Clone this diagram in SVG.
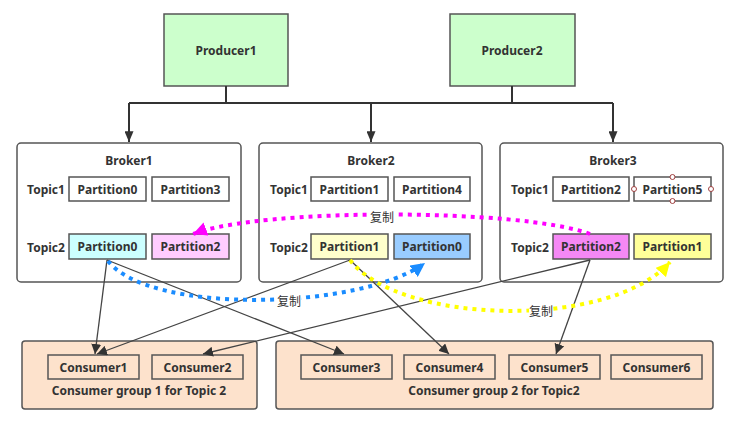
<svg xmlns="http://www.w3.org/2000/svg" width="748" height="428" viewBox="0 0 748 428">
<style>
text{font-family:"Noto Sans","Liberation Sans","Noto Sans CJK SC",sans-serif;font-size:12px;font-weight:bold;fill:#333;text-anchor:middle;dominant-baseline:central}
.lbl{font-family:"Noto Sans CJK SC","Noto Sans",sans-serif;font-weight:normal;font-size:12px}
.prod{fill:#ccffcc;stroke:#555;stroke-width:1.5}
.broker{fill:#fff;stroke:#555;stroke-width:1.5}
.part{stroke:#555;stroke-width:1.5;fill:#fff}
.grp{fill:#fde2cc;stroke:#555;stroke-width:1.5}
.cons{fill:#fde2cc;stroke:#555;stroke-width:1.5}
.tree{fill:none;stroke:#333;stroke-width:2}
.cl{fill:none;stroke:#444;stroke-width:1.3}
.dot{fill:none;stroke-width:4;stroke-dasharray:4 5}
.bg{fill:#fff}
.h{fill:#fff;stroke:#a04040;stroke-width:1}
</style>
<defs>
<marker id="ah" viewBox="0 0 10 10" refX="10" refY="5" markerWidth="10" markerHeight="10" markerUnits="userSpaceOnUse" orient="auto"><path d="M0,0 L10,5 L0,10 z" fill="#333"/></marker>
<marker id="ac" viewBox="0 0 12 10" refX="12" refY="5" markerWidth="12" markerHeight="9" markerUnits="userSpaceOnUse" orient="auto"><path d="M0,0 L12,5 L0,10 z" fill="#333"/></marker>
<marker id="am" viewBox="0 0 12 12" refX="12" refY="6" markerWidth="14" markerHeight="14" markerUnits="userSpaceOnUse" orient="auto"><path d="M0,0 L12,6 L0,12 z" fill="#ff00ff"/></marker>
<marker id="ab" viewBox="0 0 12 12" refX="12" refY="6" markerWidth="14" markerHeight="14" markerUnits="userSpaceOnUse" orient="auto"><path d="M0,0 L12,6 L0,12 z" fill="#1a8cff"/></marker>
<marker id="ay" viewBox="0 0 12 12" refX="12" refY="6" markerWidth="14" markerHeight="14" markerUnits="userSpaceOnUse" orient="auto"><path d="M0,0 L12,6 L0,12 z" fill="#ffff00"/></marker>
</defs>

<g id="producer1"><rect class="prod" x="164" y="14" width="124" height="72"/><text x="226" y="50">Producer1</text></g>
<g id="producer2"><rect class="prod" x="450" y="14" width="125" height="72"/><text x="512" y="50">Producer2</text></g>

<g id="broker1">
<rect class="broker" x="17" y="143" width="224" height="139" rx="4"/>
<text x="129" y="160">Broker1</text>
<text x="46" y="189">Topic1</text>
<rect class="part" x="69" y="177" width="77" height="24"/><text x="107.500" y="189">Partition0</text>
<rect class="part" x="152" y="177" width="77" height="24"/><text x="190.500" y="189">Partition3</text>
<text x="46" y="247">Topic2</text>
<rect class="part" x="69" y="234" width="77" height="25" style="fill:#ccffff"/><text x="107.500" y="246.500">Partition0</text>
<rect class="part" x="152" y="234" width="77" height="25" style="fill:#ffccff"/><text x="190.500" y="246.500">Partition2</text>
</g>

<g id="broker2">
<rect class="broker" x="259" y="143" width="223" height="139" rx="4"/>
<text x="371" y="160">Broker2</text>
<text x="289" y="189">Topic1</text>
<rect class="part" x="311" y="177" width="77" height="24"/><text x="349.500" y="189">Partition1</text>
<rect class="part" x="394" y="177" width="76" height="24"/><text x="432" y="189">Partition4</text>
<text x="289" y="247">Topic2</text>
<rect class="part" x="311" y="234" width="77" height="25" style="fill:#ffffcc"/><text x="349.500" y="246.500">Partition1</text>
<rect class="part" x="394" y="234" width="76" height="25" style="fill:#99ccff"/><text x="432" y="246.500">Partition0</text>
</g>

<g id="broker3">
<rect class="broker" x="500" y="143" width="223" height="139" rx="4"/>
<text x="613" y="160">Broker3</text>
<text x="530" y="189">Topic1</text>
<rect class="part" x="553" y="177" width="76" height="24"/><text x="591" y="189">Partition2</text>
<rect class="part" x="634" y="177" width="77" height="24"/><text x="672.500" y="189">Partition5</text>
<circle class="h" cx="634" cy="189" r="2.500"/><circle class="h" cx="711" cy="189" r="2.500"/>
<circle class="h" cx="672.500" cy="177" r="2.500"/><circle class="h" cx="672.500" cy="201" r="2.500"/>
<text x="530" y="247">Topic2</text>
<rect class="part" x="553" y="234" width="76" height="25" style="fill:#f588f5"/><text x="591" y="246.500">Partition2</text>
<rect class="part" x="634" y="234" width="77" height="25" style="fill:#ffff99"/><text x="672.500" y="246.500">Partition1</text>
</g>

<g id="group1">
<rect class="grp" x="22" y="341" width="235" height="68" rx="3"/>
<rect class="cons" x="48" y="355" width="91" height="24"/><text x="93.500" y="367">Consumer1</text>
<rect class="cons" x="152" y="355" width="91" height="24"/><text x="197.500" y="367">Consumer2</text>
<text x="139" y="390">Consumer group 1 for Topic 2</text>
</g>

<g id="group2">
<rect class="grp" x="276" y="341" width="437" height="68" rx="3"/>
<rect class="cons" x="301" y="355" width="91" height="24"/><text x="346.500" y="367">Consumer3</text>
<rect class="cons" x="404" y="355" width="91" height="24"/><text x="449.500" y="367">Consumer4</text>
<rect class="cons" x="509" y="355" width="91" height="24"/><text x="554.500" y="367">Consumer5</text>
<rect class="cons" x="611" y="355" width="91" height="24"/><text x="656.500" y="367">Consumer6</text>
<text x="494" y="390">Consumer group 2 for Topic2</text>
</g>

<g id="connectors">
<path class="tree" d="M226,86 V103 M512,86 V103 M129,103 H613"/>
<path class="tree" d="M129,103 V142" marker-end="url(#ac)"/>
<path class="tree" d="M371,103 V142" marker-end="url(#ac)"/>
<path class="tree" d="M613,103 V142" marker-end="url(#ac)"/>

<path class="cl" d="M107,260 L95,354" marker-end="url(#ah)"/>
<path class="cl" d="M107,260 L344,354" marker-end="url(#ah)"/>
<path class="cl" d="M350,260 L97,354" marker-end="url(#ah)"/>
<path class="cl" d="M350,260 L449,354" marker-end="url(#ah)"/>
<path class="cl" d="M590,260 L203,354" marker-end="url(#ah)"/>
<path class="cl" d="M590,260 L556,354" marker-end="url(#ah)"/>

<path class="dot" stroke="#ff00ff" d="M590,234 C520,208 260,208 193,234" marker-end="url(#am)"/>
<path class="dot" stroke="#1a8cff" d="M108,261 C150,315 360,310 425,263" marker-end="url(#ab)"/>
<path class="dot" stroke="#ffff00" d="M350,260 C400,325 610,330 670,262" marker-end="url(#ay)"/>

<rect class="bg" x="370" y="208" width="24" height="16"/><text class="lbl" x="382" y="216">复制</text>
<rect class="bg" x="277" y="292" width="24" height="16"/><text class="lbl" x="289" y="300">复制</text>
<rect class="bg" x="529" y="302" width="24" height="16"/><text class="lbl" x="541" y="310">复制</text>
</g>
</svg>
